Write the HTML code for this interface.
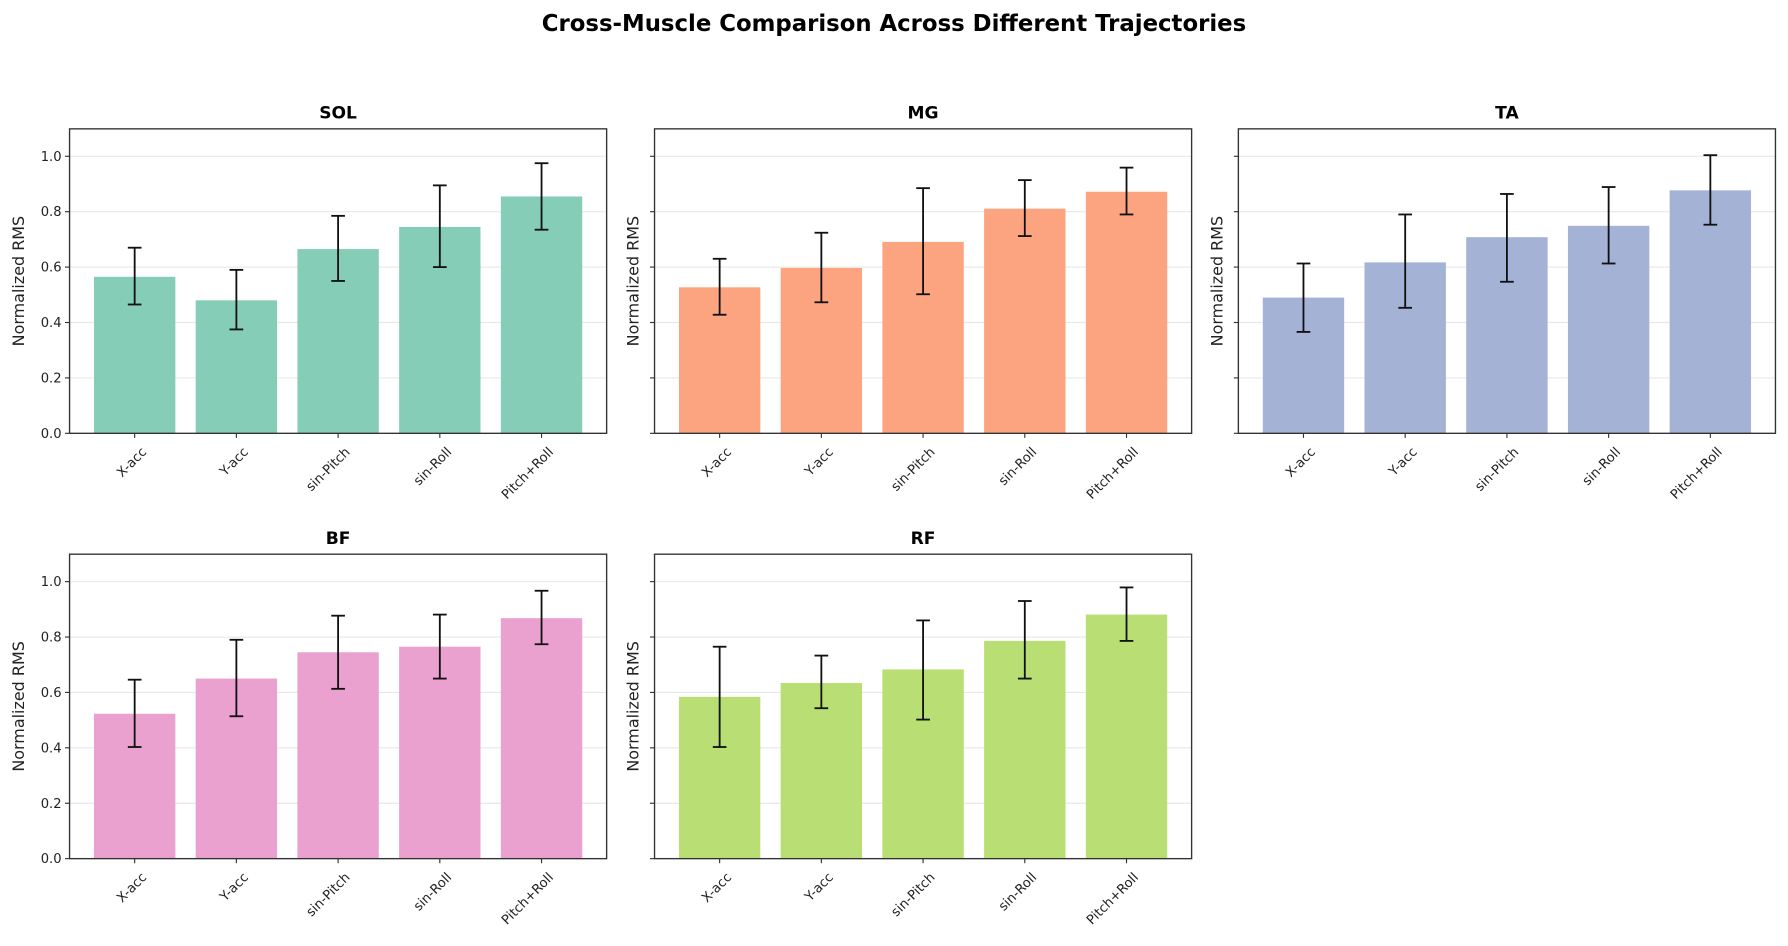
<!DOCTYPE html>
<html><head><meta charset="utf-8"><style>
html,body{margin:0;padding:0;background:#fff;}
svg{display:block;font-family:"DejaVu Sans","Liberation Sans",sans-serif;}
</style></head><body>
<svg id="fig" width="1788" height="946" viewBox="0 0 1568 829.6" xmlns="http://www.w3.org/2000/svg">
<text x="784" y="27" text-anchor="middle" font-size="20" font-weight="bold">Cross-Muscle Comparison Across Different Trajectories</text>
</svg>
<script>
const categories = ["X-acc","Y-acc","sin-Pitch","sin-Roll","Pitch+Roll"];
const muscles = ["SOL","MG","TA","BF","RF"];
const yTicks = [0.0,0.2,0.4,0.6,0.8,1.0];
const yTickLabels = ["0.0","0.2","0.4","0.6","0.8","1.0"];
const solMean = [0.565,0.48,0.665,0.745,0.855];
const solLow  = [0.465,0.375,0.55,0.6,0.735];
const solHigh = [0.67,0.59,0.785,0.895,0.975];
const mgMean = [0.527,0.597,0.691,0.811,0.872];
const mgLow  = [0.428,0.473,0.502,0.712,0.79];
const mgHigh = [0.63,0.724,0.885,0.914,0.959];
const taMean = [0.49,0.617,0.708,0.749,0.877];
const taLow  = [0.366,0.453,0.547,0.613,0.753];
const taHigh = [0.613,0.79,0.864,0.889,1.004];
const bfMean = [0.523,0.65,0.745,0.765,0.868];
const bfLow  = [0.403,0.514,0.613,0.65,0.774];
const bfHigh = [0.646,0.79,0.877,0.881,0.967];
const rfMean = [0.584,0.634,0.683,0.786,0.881];
const rfLow  = [0.403,0.543,0.502,0.65,0.786];
const rfHigh = [0.765,0.733,0.86,0.93,0.979];

const svg = document.getElementById('fig');
const NS = "http://www.w3.org/2000/svg";
function mk(tag, attrs, parent){const e=document.createElementNS(NS,tag);for(const k in attrs)e.setAttribute(k,attrs[k]);(parent||svg).appendChild(e);return e;}

const panels = [
 {name:"SOL",x0:61,y0:113,mean:solMean,low:solLow,high:solHigh,color:"#85cdb7",labels:true},
 {name:"MG",x0:574,y0:113,mean:mgMean,low:mgLow,high:mgHigh,color:"#fca47f",labels:false},
 {name:"TA",x0:1086,y0:113,mean:taMean,low:taLow,high:taHigh,color:"#a4b2d5",labels:false},
 {name:"BF",x0:61,y0:486,mean:bfMean,low:bfLow,high:bfHigh,color:"#eaa1cf",labels:true},
 {name:"RF",x0:574,y0:486,mean:rfMean,low:rfLow,high:rfHigh,color:"#b9df74",labels:false}
];
const W=471,H=267,yMax=1.099,xMin=-0.64,xMax=4.64;

panels.forEach(p=>{
  const key=p.name.toLowerCase();
  const g=mk('g',{});
  
  
  const X=v=>p.x0+(v-xMin)/(xMax-xMin)*W;
  const Y=v=>p.y0+H-v/yMax*H;
  yTicks.forEach((t,i)=>{
    if(t>0){const gl=mk('line',{x1:p.x0,x2:p.x0+W,y1:Y(t),y2:Y(t),stroke:"#e8e8e8","stroke-width":1},g);
      
      }
    const tk=mk('line',{x1:p.x0-4,x2:p.x0,y1:Y(t),y2:Y(t),stroke:"#333","stroke-width":1},g);
    
    
    if(p.labels){const tl=mk('text',{x:p.x0-7,y:Y(t)+4,"text-anchor":"end","font-size":11.5,fill:"#222"},g);tl.textContent=yTickLabels[i];
      
      }
  });
  const bw=0.8;
  categories.forEach((c,i)=>{
    const b=mk('rect',{x:X(i-bw/2),y:Y(p.mean[i]),width:X(i+bw/2)-X(i-bw/2),height:Y(0)-Y(p.mean[i]),fill:p.color},g);
    
    
    const cx=X(i);
    const eg=mk('g',{stroke:"#111","stroke-width":1.6},g);
    
    
    mk('line',{x1:cx,x2:cx,y1:Y(p.low[i]),y2:Y(p.high[i])},eg);
    mk('line',{x1:cx-6,x2:cx+6,y1:Y(p.low[i]),y2:Y(p.low[i])},eg);
    mk('line',{x1:cx-6,x2:cx+6,y1:Y(p.high[i]),y2:Y(p.high[i])},eg);
    const tk=mk('line',{x1:cx,x2:cx,y1:p.y0+H,y2:p.y0+H+4,stroke:"#333","stroke-width":1},g);
    
    
    const lx=cx+11, ly=p.y0+H+17;
    const tl=mk('text',{x:lx,y:ly,"text-anchor":"end","font-size":11.5,fill:"#222",transform:`rotate(-45 ${lx} ${ly})`},g);
    tl.textContent=c;
    
    
  });
  const fr=mk('rect',{x:p.x0,y:p.y0,width:W,height:H,fill:"none",stroke:"#333","stroke-width":1.2},g);
  
  
  const t=mk('text',{x:p.x0+W/2,y:p.y0-9,"text-anchor":"middle","font-size":15,"font-weight":"bold"},g);
  t.textContent=p.name;
  
  
  const yx=p.labels?p.x0-40:p.x0-14, yy=p.y0+H/2;
  const yl=mk('text',{x:yx,y:yy,"text-anchor":"middle","font-size":14,fill:"#222",transform:`rotate(-90 ${yx} ${yy})`},g);
  yl.textContent="Normalized RMS";
  
  
});
</script>
</body></html>
